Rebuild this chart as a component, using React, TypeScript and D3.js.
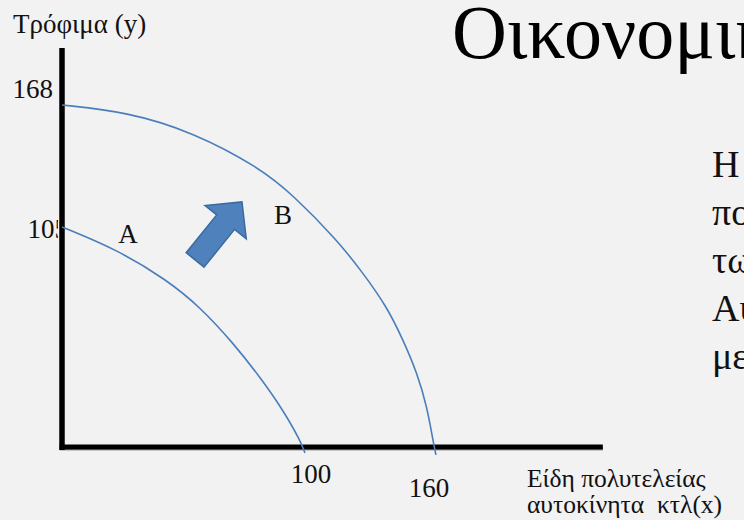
import { useEffect, useRef } from "react";
import * as d3 from "d3";

// frontier A (inner) and B (outer)
const curveAx = [0, 24.0, 45.0, 59.2, 73.4, 84.9, 94.8, 102.1, 104.2];
const curveAy = [108.1, 96.8, 82.0, 68.8, 51.1, 34.4, 18.2, 3.4, -2.9];
const curveBx = [0, 27.9, 56.2, 84.9, 99.1, 118.0, 129.1, 139.4, 146.3, 152.3, 156.6, 159.1, 160.4];
const curveBy = [168, 164.6, 154.7, 137.1, 123.8, 101.7, 85.5, 68.8, 52.6, 36.4, 19.6, 3.4, -3.9];
const curveNames = ["A", "B"];
const curveNameX = [28.3, 94.8];
const curveNameY = [104.5, 113.9];
const yTickLabels = ["105", "168"]; // at the y-intercepts of A, B
const xTickLabels = ["100", "160"]; // at the x-intercepts of A, B
const arrowFrom = [57.1, 91.9];
const arrowTo = [77.2, 120.4];
const axisMax = [232, 196];
const yTitle = "Τρόφιμα (y)";
const xTitle = ["Είδη πολυτελείας", "αυτοκίνητα  κτλ(x)"];
const slideTitle = "Οικονομική";
const slideLines = ["Η οικονομική", "ποσότητα", "των αγαθών", "Αυτό", "μεγάλη"];

const W = 744;
const H = 520;
const SERIF = "'Liberation Serif', 'Times New Roman', serif";

function App() {
  const ref = useRef<SVGSVGElement>(null);

  useEffect(() => {
    const svg = d3.select(ref.current);
    svg.selectAll("*").remove();

    const x = d3.scaleLinear().domain([0, 160]).range([62, 435]);
    const y = d3.scaleLinear().domain([0, 168]).range([447, 105]);

    svg.append("rect").attr("width", W).attr("height", H).attr("fill", "#f2f2f2");

    // slide title + body text, cut off by the right edge
    svg
      .append("text")
      .attr("x", 452)
      .attr("y", 58)
      .attr("font-family", SERIF)
      .attr("font-size", 76)
      .attr("fill", "#000")
      .text(slideTitle);
    svg
      .append("g")
      .selectAll("text")
      .data(slideLines)
      .enter()
      .append("text")
      .attr("x", 712)
      .attr("y", (d, i) => 177 + i * 48)
      .attr("font-family", SERIF)
      .attr("font-size", 38)
      .attr("fill", "#111")
      .text((d) => d);

    const curves = [
      curveAx.map((v, i) => [v, curveAy[i]]),
      curveBx.map((v, i) => [v, curveBy[i]]),
    ];

    // y tick labels, clipped where the axis runs
    svg
      .append("clipPath")
      .attr("id", "yclip")
      .append("rect")
      .attr("x", 0)
      .attr("y", 0)
      .attr("width", x(0) - 4)
      .attr("height", H);
    const yDy = [11, -7];
    const yEnd = [68, 53];
    svg
      .append("g")
      .attr("clip-path", "url(#yclip)")
      .selectAll("text")
      .data(yTickLabels)
      .enter()
      .append("text")
      .attr("x", (d, i) => yEnd[i])
      .attr("y", (d, i) => y(curves[i][0][1]) + yDy[i])
      .attr("text-anchor", "end")
      .attr("font-family", SERIF)
      .attr("font-size", 27)
      .attr("fill", "#111")
      .text((d) => d);

    const xDx = [6, -7];
    const xDy = [36, 50];
    svg
      .append("g")
      .selectAll("text")
      .data(xTickLabels)
      .enter()
      .append("text")
      .attr("x", (d, i) => x(curves[i][curves[i].length - 1][0]) + xDx[i])
      .attr("y", (d, i) => y(0) + xDy[i])
      .attr("text-anchor", "middle")
      .attr("font-family", SERIF)
      .attr("font-size", 27)
      .attr("fill", "#111")
      .text((d) => d);

    // axes
    const ax = svg.append("g");
    ax.append("line")
      .attr("x1", x(-1))
      .attr("x2", x(axisMax[0]))
      .attr("y1", y(0) + 2)
      .attr("y2", y(0) + 2)
      .attr("stroke", "#9a9a9a")
      .attr("stroke-width", 3);
    ax.append("line")
      .attr("x1", x(0))
      .attr("x2", x(0))
      .attr("y1", y(axisMax[1]))
      .attr("y2", y(0) + 3)
      .attr("stroke", "#000")
      .attr("stroke-width", 5.5);
    ax.append("line")
      .attr("x1", x(-1))
      .attr("x2", x(axisMax[0]))
      .attr("y1", y(0))
      .attr("y2", y(0))
      .attr("stroke", "#000")
      .attr("stroke-width", 5);

    const line = d3
      .line()
      .x((d) => x(d[0]))
      .y((d) => y(d[1]))
      .curve(d3.curveBasis);

    svg
      .append("g")
      .selectAll("path")
      .data(curves)
      .enter()
      .append("path")
      .attr("d", (d) => line(d as [number, number][]))
      .attr("fill", "none")
      .attr("stroke", "#4a7ebb")
      .attr("stroke-width", 1.6);

    svg
      .append("g")
      .selectAll("text")
      .data(curveNames)
      .enter()
      .append("text")
      .attr("x", (d, i) => x(curveNameX[i]))
      .attr("y", (d, i) => y(curveNameY[i]) + 9)
      .attr("text-anchor", "middle")
      .attr("font-family", SERIF)
      .attr("font-size", 27)
      .attr("fill", "#111")
      .text((d) => d);

    // block arrow showing the outward shift
    const p0 = [x(arrowFrom[0]), y(arrowFrom[1])];
    const p1 = [x(arrowTo[0]), y(arrowTo[1])];
    const len = Math.hypot(p1[0] - p0[0], p1[1] - p0[1]);
    const u = [(p1[0] - p0[0]) / len, (p1[1] - p0[1]) / len];
    const n = [-u[1], u[0]];
    const sw = 11.5;
    const hw = 26.5;
    const hl = 26;
    const at = (a: number, b: number) => [p0[0] + u[0] * a + n[0] * b, p0[1] + u[1] * a + n[1] * b];
    const pts = [
      at(0, sw),
      at(len - hl, sw),
      at(len - hl, hw),
      at(len, 0),
      at(len - hl, -hw),
      at(len - hl, -sw),
      at(0, -sw),
    ];
    svg
      .append("polygon")
      .attr("points", pts.map((p) => p.join(",")).join(" "))
      .attr("fill", "#4f81bd")
      .attr("stroke", "#3d6a9e")
      .attr("stroke-width", 1.5)
      .attr("stroke-linejoin", "miter");

    // axis titles
    svg
      .append("text")
      .attr("x", 13)
      .attr("y", 33)
      .attr("font-family", SERIF)
      .attr("font-size", 27)
      .attr("fill", "#111")
      .text(yTitle);
    svg
      .append("g")
      .selectAll("text")
      .data(xTitle)
      .enter()
      .append("text")
      .attr("x", 527)
      .attr("y", (d, i) => 487 + i * 26)
      .attr("font-family", SERIF)
      .attr("font-size", 25.5)
      .attr("fill", "#111")
      .style("white-space", "pre")
      .text((d) => d);
  }, []);

  return (
    <div style={{ position: "fixed", top: 0, left: 0, width: W, height: H, overflow: "hidden" }}>
      <svg ref={ref} width={W} height={H} style={{ display: "block" }}></svg>
    </div>
  );
}

export default App;
